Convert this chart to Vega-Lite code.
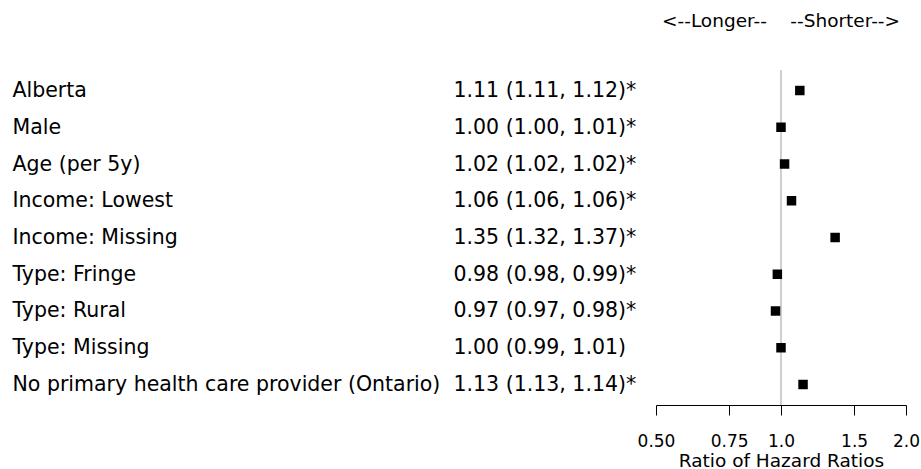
{
  "$schema": "https://vega.github.io/schema/vega-lite/v6.json",
  "width": 250,
  "height": 335,
  "autosize": {"type": "none"},
  "padding": {"left": 656, "top": 70, "right": 15, "bottom": 64},
  "background": "white",
  "config": {
    "font": "DejaVu Sans",
    "view": {"stroke": null},
    "axis": {"grid": false},
    "axisX": {
      "ticks": true, "tickColor": "black", "tickWidth": 1, "tickSize": 10,
      "domain": true, "domainColor": "black", "domainWidth": 1,
      "labelFont": "DejaVu Sans", "labelFontSize": 17, "labelColor": "black", "labelPadding": 18,
      "labelFlush": false, "labelOverlap": false, "labelBound": false,
      "titleFont": "DejaVu Sans", "titleFontSize": 18.5, "titleFontWeight": "normal", "titleColor": "black",
      "titlePadding": 2
    }
  },
  "title": {
    "text": "<--Longer--\u00a0\u00a0\u00a0\u00a0--Shorter-->",
    "anchor": "middle",
    "font": "DejaVu Sans",
    "fontSize": 18.5,
    "fontWeight": "normal",
    "color": "black",
    "baseline": "alphabetic",
    "offset": 24
  },
  "data": {
    "values": [
      {"label": "Alberta", "ci": "1.11 (1.11, 1.12)*", "hr": 1.11, "lo": 1.11, "hi": 1.12},
      {"label": "Male", "ci": "1.00 (1.00, 1.01)*", "hr": 1.00, "lo": 1.00, "hi": 1.01},
      {"label": "Age (per 5y)", "ci": "1.02 (1.02, 1.02)*", "hr": 1.02, "lo": 1.02, "hi": 1.02},
      {"label": "Income: Lowest", "ci": "1.06 (1.06, 1.06)*", "hr": 1.06, "lo": 1.06, "hi": 1.06},
      {"label": "Income: Missing", "ci": "1.35 (1.32, 1.37)*", "hr": 1.35, "lo": 1.32, "hi": 1.37},
      {"label": "Type: Fringe", "ci": "0.98 (0.98, 0.99)*", "hr": 0.98, "lo": 0.98, "hi": 0.99},
      {"label": "Type: Rural", "ci": "0.97 (0.97, 0.98)*", "hr": 0.97, "lo": 0.97, "hi": 0.98},
      {"label": "Type: Missing", "ci": "1.00 (0.99, 1.01)", "hr": 1.00, "lo": 0.99, "hi": 1.01},
      {"label": "No primary health care provider (Ontario)", "ci": "1.13 (1.13, 1.14)*", "hr": 1.13, "lo": 1.13, "hi": 1.14}
    ]
  },
  "layer": [
    {
      "mark": {"type": "rule", "color": "#cfcfcf", "strokeWidth": 1.2},
      "encoding": {
        "x": {"datum": 1, "type": "quantitative", "scale": {"type": "log", "domain": [0.5, 2]}}
      }
    },
    {
      "mark": {"type": "rule", "color": "black", "strokeWidth": 1},
      "encoding": {
        "y": {
          "field": "ci", "type": "nominal", "sort": null,
          "scale": {"type": "point", "padding": 0.558},
          "axis": {
            "orient": "left", "title": null, "domain": false, "ticks": false, "tickSize": 0,
            "labelAlign": "left", "labelPadding": 203, "labelLimit": 0,
            "labelFont": "DejaVu Sans", "labelFontSize": 20.5, "labelColor": "black"
          }
        },
        "x": {"field": "lo", "type": "quantitative", "scale": {"type": "log", "domain": [0.5, 2]}},
        "x2": {"field": "hi"}
      }
    },
    {
      "mark": {"type": "point", "shape": "square", "filled": true, "color": "black", "opacity": 1, "size": 90},
      "encoding": {
        "y": {
          "field": "label", "type": "nominal", "sort": null,
          "scale": {"type": "point", "padding": 0.558},
          "axis": {
            "orient": "left", "title": null, "domain": false, "ticks": false, "tickSize": 0,
            "labelAlign": "left", "labelPadding": 644, "labelLimit": 0,
            "labelFont": "DejaVu Sans", "labelFontSize": 20.5, "labelColor": "black"
          }
        },
        "x": {
          "field": "hr", "type": "quantitative",
          "scale": {"type": "log", "domain": [0.5, 2]},
          "axis": {
            "values": [0.5, 0.75, 1, 1.5, 2],
            "labelExpr": "datum.value < 1 ? format(datum.value, '.2f') : format(datum.value, '.1f')",
            "title": "Ratio of Hazard Ratios",
            "ticks": true, "tickSize": 10, "tickColor": "black", "labelPadding": 18, "titlePadding": 2
          }
        }
      }
    }
  ],
  "resolve": {"scale": {"y": "independent"}, "axis": {"y": "independent"}}
}
